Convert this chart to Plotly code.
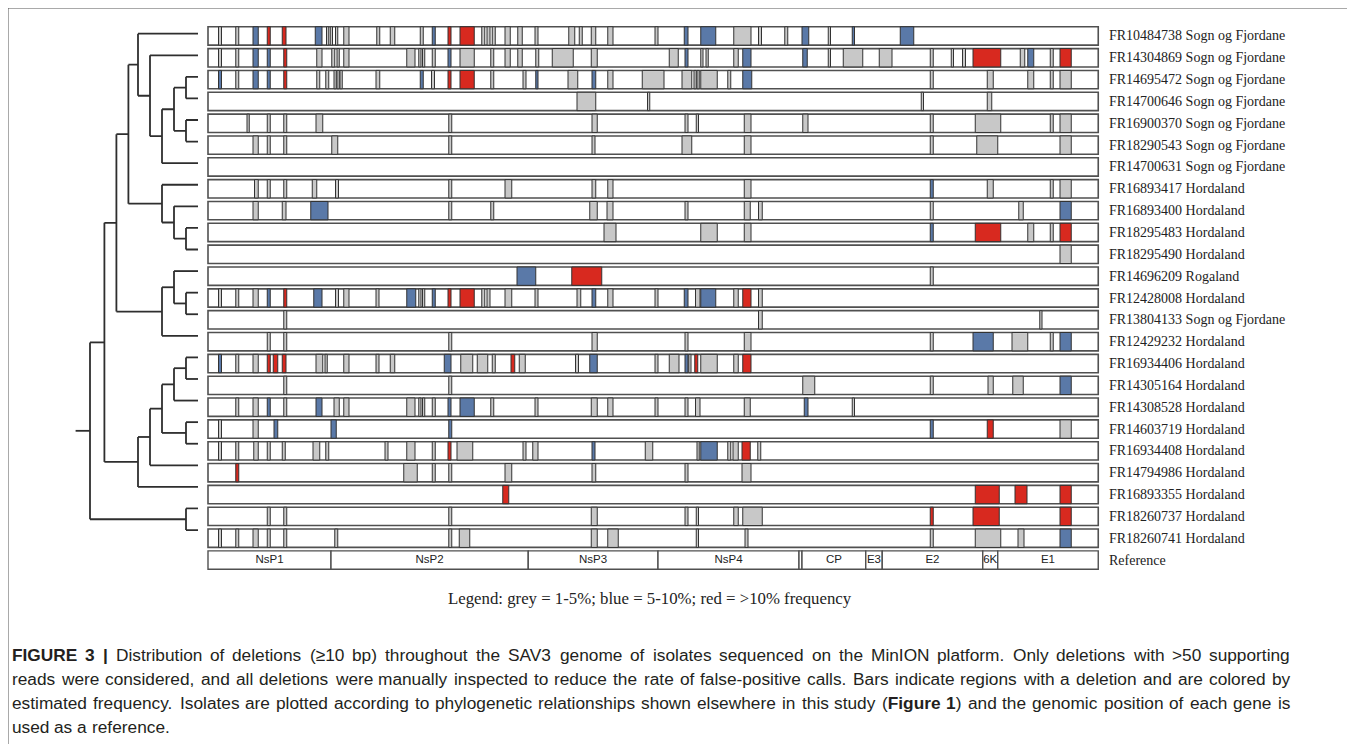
import plotly.graph_objects as go

# ---------------- data ----------------
isolates = ["FR10484738", "FR14304869", "FR14695472", "FR14700646", "FR16900370", "FR18290543",
            "FR14700631", "FR16893417", "FR16893400", "FR18295483", "FR18295490", "FR14696209",
            "FR12428008", "FR13804133", "FR12429232", "FR16934406", "FR14305164", "FR14308528",
            "FR14603719", "FR16934408", "FR14794986", "FR16893355", "FR18260737", "FR18260741"]
locations = ["Sogn og Fjordane"] * 7 + ["Hordaland"] * 4 + ["Rogaland", "Hordaland",
             "Sogn og Fjordane"] + ["Hordaland"] * 10

genome_length_kb = 11.87
genes = ["NsP1", "NsP2", "NsP3", "NsP4", "", "CP", "E3", "E2", "6K", "E1"]
gene_start = [0.00, 1.64, 4.27, 6.00, 7.88, 7.92, 8.77, 8.99, 10.33, 10.53]
gene_end = [1.64, 4.27, 6.00, 7.88, 7.92, 8.77, 8.99, 10.33, 10.53, 11.87]

# deletions per isolate: (start kb, end kb, frequency class g=1-5%, b=5-10%, r=>10%)
deletions = [
    # FR10484738
    [(0.14, 0.18, "g"), (0.37, 0.41, "g"), (0.60, 0.67, "b"), (0.79, 0.83, "r"), (0.99, 1.04, "r"),
     (1.43, 1.52, "b"), (1.58, 1.61, "g"), (1.63, 1.66, "g"), (1.70, 1.73, "g"), (1.81, 1.88, "g"),
     (2.25, 2.29, "g"), (2.43, 2.49, "g"), (2.83, 2.87, "g"), (2.99, 3.03, "b"), (3.20, 3.24, "r"),
     (3.36, 3.55, "r"), (3.65, 3.69, "g"), (3.72, 3.76, "g"), (3.79, 3.83, "g"), (3.96, 4.03, "g"),
     (4.13, 4.19, "g"), (4.36, 4.40, "g"), (4.81, 4.89, "g"), (4.95, 4.99, "g"), (5.11, 5.17, "g"),
     (5.33, 5.40, "g"), (5.96, 6.00, "g"), (6.35, 6.40, "b"), (6.57, 6.77, "b"), (7.01, 7.24, "g"),
     (7.34, 7.38, "g"), (7.69, 7.73, "g"), (7.92, 8.01, "b"), (8.27, 8.30, "g"), (8.59, 8.62, "b"),
     (9.23, 9.41, "b")],
    # FR14304869
    [(0.14, 0.18, "g"), (0.37, 0.41, "g"), (0.60, 0.67, "b"), (0.79, 0.83, "b"), (1.01, 1.05, "r"),
     (1.45, 1.52, "g"), (1.65, 1.69, "g"), (1.72, 1.75, "g"), (1.81, 1.88, "g"), (2.65, 2.76, "g"),
     (2.81, 2.84, "g"), (2.86, 2.89, "g"), (2.99, 3.03, "g"), (3.20, 3.24, "b"), (3.36, 3.55, "g"),
     (3.77, 3.81, "g"), (3.96, 4.03, "g"), (4.13, 4.19, "g"), (4.37, 4.41, "g"), (4.59, 4.87, "g"),
     (5.11, 5.19, "g"), (6.15, 6.27, "g"), (6.36, 6.40, "b"), (6.57, 6.60, "g"), (6.64, 6.67, "g"),
     (7.01, 7.07, "g"), (7.13, 7.24, "b"), (7.93, 7.99, "b"), (8.27, 8.30, "g"), (8.47, 8.73, "g"),
     (8.95, 9.12, "g"), (9.63, 9.67, "g"), (9.91, 9.94, "g"), (10.06, 10.10, "g"), (10.20, 10.57, "r"),
     (10.83, 10.89, "g"), (10.93, 11.01, "b"), (11.23, 11.27, "g"), (11.36, 11.51, "r")],
    # FR14695472
    [(0.14, 0.18, "b"), (0.37, 0.41, "g"), (0.60, 0.67, "b"), (0.79, 0.83, "b"), (1.01, 1.05, "r"),
     (1.45, 1.49, "g"), (1.57, 1.61, "g"), (1.68, 1.71, "g"), (1.72, 1.75, "g"), (1.76, 1.79, "g"),
     (2.24, 2.29, "g"), (2.83, 2.87, "b"), (2.98, 3.02, "g"), (3.20, 3.24, "r"), (3.36, 3.55, "r"),
     (3.77, 3.81, "g"), (4.20, 4.24, "g"), (4.37, 4.40, "b"), (4.80, 4.93, "g"), (5.12, 5.17, "b"),
     (5.33, 5.40, "g"), (5.79, 6.08, "g"), (6.32, 6.45, "g"), (6.48, 6.51, "g"), (6.52, 6.55, "g"),
     (6.57, 6.79, "g"), (6.93, 6.97, "g"), (7.13, 7.25, "b"), (9.63, 9.67, "g"), (10.39, 10.47, "g"),
     (10.93, 11.01, "g"), (11.23, 11.27, "g"), (11.36, 11.51, "g")],
    # FR14700646
    [(4.92, 5.17, "g"), (5.86, 5.89, "g"), (9.51, 9.54, "g"), (10.39, 10.45, "g")],
    # FR16900370
    [(0.52, 0.55, "g"), (0.79, 0.83, "g"), (1.01, 1.05, "g"), (1.44, 1.53, "g"), (3.21, 3.25, "g"),
     (5.12, 5.19, "g"), (6.36, 6.40, "g"), (6.51, 6.54, "g"), (7.15, 7.24, "g"), (7.93, 8.00, "g"),
     (9.63, 9.67, "g"), (10.23, 10.57, "g"), (11.23, 11.27, "g"), (11.36, 11.51, "g")],
    # FR18290543
    [(0.60, 0.67, "g"), (0.79, 0.83, "g"), (1.01, 1.05, "g"), (1.65, 1.73, "g"), (3.21, 3.25, "g"),
     (5.12, 5.16, "g"), (6.32, 6.45, "g"), (7.15, 7.24, "g"), (9.63, 9.67, "g"), (10.25, 10.53, "g"),
     (11.36, 11.51, "g")],
    # FR14700631
    [],
    # FR16893417
    [(0.62, 0.67, "g"), (0.79, 0.83, "g"), (1.01, 1.05, "g"), (1.39, 1.45, "g"), (1.70, 1.74, "g"),
     (3.21, 3.25, "g"), (3.96, 4.05, "g"), (5.12, 5.17, "g"), (5.33, 5.40, "g"), (7.15, 7.24, "g"),
     (9.63, 9.67, "b"), (10.39, 10.47, "g"), (11.23, 11.27, "g"), (11.36, 11.51, "g")],
    # FR16893400
    [(0.60, 0.67, "g"), (0.99, 1.04, "g"), (1.37, 1.60, "b"), (3.21, 3.25, "g"), (3.77, 3.81, "g"),
     (5.09, 5.19, "g"), (5.32, 5.40, "g"), (6.36, 6.40, "g"), (7.15, 7.23, "g"), (7.34, 7.39, "g"),
     (9.63, 9.67, "g"), (10.81, 10.87, "g"), (11.36, 11.51, "b")],
    # FR18295483
    [(5.28, 5.44, "g"), (6.57, 6.79, "g"), (7.15, 7.24, "g"), (9.63, 9.67, "b"), (10.23, 10.57, "r"),
     (10.93, 11.01, "g"), (11.23, 11.27, "g"), (11.36, 11.51, "r")],
    # FR18295490
    [(11.36, 11.51, "g")],
    # FR14696209
    [(4.12, 4.37, "b"), (4.85, 5.25, "r"), (9.63, 9.67, "g")],
    # FR12428008
    [(0.14, 0.18, "g"), (0.37, 0.41, "g"), (0.60, 0.67, "g"), (0.79, 0.83, "b"), (1.01, 1.05, "r"),
     (1.41, 1.52, "b"), (1.70, 1.74, "g"), (1.81, 1.88, "g"), (2.24, 2.28, "g"), (2.65, 2.77, "b"),
     (2.81, 2.84, "g"), (2.86, 2.89, "g"), (2.99, 3.03, "b"), (3.20, 3.24, "r"), (3.36, 3.55, "r"),
     (3.65, 3.69, "g"), (3.72, 3.76, "g"), (3.96, 4.05, "g"), (4.36, 4.40, "g"), (4.92, 4.97, "g"),
     (5.12, 5.17, "b"), (5.33, 5.40, "g"), (5.96, 6.00, "g"), (6.35, 6.40, "b"), (6.50, 6.56, "g"),
     (6.57, 6.77, "b"), (7.01, 7.07, "g"), (7.13, 7.24, "r"), (7.34, 7.39, "g")],
    # FR13804133
    [(1.01, 1.05, "g"), (7.34, 7.39, "g"), (11.09, 11.12, "g")],
    # FR12429232
    [(0.79, 0.83, "g"), (1.01, 1.05, "g"), (3.21, 3.25, "g"), (5.12, 5.19, "g"), (6.36, 6.40, "g"),
     (7.15, 7.24, "g"), (9.63, 9.67, "g"), (10.20, 10.47, "b"), (10.72, 10.93, "g"), (11.23, 11.27, "g"),
     (11.36, 11.51, "b")],
    # FR16934406
    [(0.14, 0.18, "b"), (0.37, 0.41, "g"), (0.60, 0.67, "g"), (0.79, 0.83, "r"), (0.87, 0.93, "r"),
     (0.99, 1.04, "r"), (1.44, 1.53, "g"), (1.56, 1.59, "g"), (1.81, 1.88, "g"), (2.24, 2.28, "g"),
     (2.43, 2.49, "g"), (3.15, 3.24, "b"), (3.37, 3.53, "g"), (3.59, 3.73, "g"), (3.79, 3.83, "g"),
     (4.04, 4.09, "r"), (4.15, 4.23, "g"), (4.90, 4.94, "g"), (5.09, 5.19, "b"), (5.96, 6.00, "g"),
     (6.15, 6.28, "g"), (6.36, 6.40, "b"), (6.41, 6.44, "g"), (6.49, 6.53, "r"), (6.57, 6.79, "g"),
     (7.01, 7.07, "g"), (7.13, 7.24, "r")],
    # FR14305164
    [(1.01, 1.05, "g"), (3.21, 3.25, "g"), (7.93, 8.09, "g"), (9.63, 9.67, "g"), (10.40, 10.47, "g"),
     (10.73, 10.87, "g"), (11.36, 11.51, "b")],
    # FR14308528
    [(0.37, 0.41, "g"), (0.60, 0.67, "g"), (0.79, 0.83, "b"), (1.01, 1.05, "g"), (1.44, 1.52, "b"),
     (1.68, 1.75, "g"), (1.81, 1.88, "g"), (2.65, 2.76, "g"), (2.81, 2.84, "g"), (2.86, 2.89, "g"),
     (2.99, 3.03, "g"), (3.20, 3.24, "b"), (3.36, 3.55, "b"), (3.77, 3.81, "g"), (4.36, 4.40, "g"),
     (5.11, 5.19, "g"), (5.33, 5.40, "g"), (5.96, 6.00, "g"), (6.36, 6.40, "g"), (6.50, 6.56, "g"),
     (7.15, 7.23, "g"), (7.95, 8.00, "b"), (8.59, 8.62, "g")],
    # FR14603719
    [(0.14, 0.18, "g"), (0.60, 0.67, "g"), (0.88, 0.93, "b"), (1.64, 1.71, "b"), (3.21, 3.25, "b"),
     (9.63, 9.67, "b"), (10.39, 10.47, "r"), (11.36, 11.51, "g")],
    # FR16934408
    [(0.14, 0.18, "g"), (0.37, 0.41, "g"), (0.61, 0.67, "g"), (0.79, 0.83, "g"), (0.99, 1.03, "g"),
     (1.40, 1.49, "g"), (1.57, 1.61, "g"), (2.36, 2.40, "g"), (2.65, 2.76, "g"), (2.99, 3.03, "g"),
     (3.20, 3.24, "r"), (3.32, 3.53, "g"), (4.20, 4.24, "g"), (4.33, 4.40, "g"), (5.12, 5.16, "b"),
     (5.83, 5.93, "g"), (6.52, 6.55, "g"), (6.57, 6.79, "b"), (6.93, 6.97, "g"), (7.00, 7.07, "g"),
     (7.12, 7.23, "r"), (7.33, 7.37, "g")],
    # FR14794986
    [(0.37, 0.41, "r"), (2.61, 2.79, "g"), (2.99, 3.03, "g"), (3.21, 3.25, "g"), (3.96, 4.05, "g"),
     (5.12, 5.17, "g"), (6.36, 6.40, "g"), (7.12, 7.24, "g")],
    # FR16893355
    [(3.93, 4.01, "r"), (10.23, 10.55, "r"), (10.76, 10.92, "r"), (11.36, 11.51, "r")],
    # FR18260737
    [(0.79, 0.83, "g"), (1.01, 1.05, "g"), (3.21, 3.25, "g"), (5.11, 5.19, "g"), (6.36, 6.40, "g"),
     (6.51, 6.54, "g"), (7.01, 7.07, "g"), (7.13, 7.39, "g"), (9.63, 9.67, "r"), (10.20, 10.55, "r"),
     (11.36, 11.51, "r")],
    # FR18260741
    [(0.14, 0.18, "g"), (0.37, 0.41, "g"), (0.60, 0.67, "g"), (0.79, 0.83, "g"), (1.01, 1.05, "g"),
     (1.69, 1.73, "g"), (3.21, 3.25, "g"), (3.35, 3.49, "g"), (5.11, 5.19, "g"), (5.33, 5.47, "g"),
     (6.51, 6.54, "g"), (7.16, 7.20, "g"), (9.63, 9.67, "g"), (10.23, 10.57, "g"), (10.80, 10.88, "g"),
     (11.36, 11.51, "b")],
]

# dendrogram: (node height, left child, right child); leaves are isolate row numbers
tree = (0.0,
        (1.2,
         (2.2,
          (3.2,
           (4.0, 1, (5.0, 2, (6.0, (7.0, (8.0, 3, 4), (8.0, 5, 6)), 7))),
           (6.0, 8, (7.0, 9, (8.0, 10, 11)))),
          (6.0, (7.0, 12, (8.0, 13, 14)), 15)),
         (4.0, (5.0, (6.0, (7.0, (8.0, 16, 17), 18), (8.0, 19, 20)), 21), 22)),
        (8.0, 23, 24))
leaf_height = 9.0
root_stub = -1.2

legend_text = "Legend: grey = 1-5%; blue = 5-10%; red = >10% frequency"
caption_lines = [
    "<b>FIGURE 3 |</b> Distribution of deletions (\u226510 bp) throughout the SAV3 genome of isolates sequenced on the MinION platform. Only deletions with >50 supporting",
    "reads were considered, and all deletions were manually inspected to reduce the rate of false-positive calls. Bars indicate regions with a deletion and are colored by",
    "estimated frequency. Isolates are plotted according to phylogenetic relationships shown elsewhere in this study (<b>Figure 1</b>) and the genomic position of each gene is",
    "used as a reference.",
]

# ---------------- styling / geometry ----------------
PAGE_OFF = 8            # body margin of the html page
FW, FH = 1347, 736      # figure size so page is filled exactly
COLORS = {"g": "#c8c8c8", "b": "#5a79a8", "r": "#d8291f"}
EDGE = "#333333"
ROW_EDGE = "#505050"
BAR_T = 0.84
SERIF = "Liberation Serif, Times New Roman, serif"
SANS = "Liberation Sans, Arial, sans-serif"


def px(x):
    return (x - PAGE_OFF) / FW


def py(y):
    return 1 - (y - PAGE_OFF) / FH


fig = go.Figure()

n = len(isolates)
rows = list(range(1, n + 1))
ref_row = n + 1

# row backgrounds
fig.add_trace(go.Bar(orientation="h", y=rows, base=[0] * n, x=[genome_length_kb] * n,
                     width=BAR_T, marker=dict(color="white", line=dict(color=ROW_EDGE, width=1.6)),
                     hoverinfo="skip", showlegend=False))

# deletions
for cls in ["g", "b", "r"]:
    ys, bs, ws = [], [], []
    for i, dl in enumerate(deletions):
        for s, e, c in dl:
            if c == cls:
                ys.append(i + 1)
                bs.append(s)
                ws.append(e - s)
    fig.add_trace(go.Bar(orientation="h", y=ys, base=bs, x=ws, width=BAR_T,
                         marker=dict(color=COLORS[cls], line=dict(color=EDGE, width=1)),
                         hoverinfo="skip", showlegend=False))

# reference genes
fig.add_trace(go.Bar(orientation="h", y=[ref_row] * len(genes), base=gene_start,
                     x=[e - s for s, e in zip(gene_start, gene_end)], width=BAR_T,
                     marker=dict(color="white", line=dict(color=ROW_EDGE, width=1.4)),
                     hoverinfo="skip", showlegend=False))
fig.add_trace(go.Scatter(x=[(s + e) / 2 for s, e in zip(gene_start, gene_end)],
                         y=[ref_row] * len(genes), mode="text", text=genes,
                         textfont=dict(family=SANS, size=11.5, color="#222"),
                         hoverinfo="skip", showlegend=False, cliponaxis=False))

# dendrogram
seg_x, seg_y = [], []


def draw(node):
    if isinstance(node, int):
        return float(node), leaf_height
    h, a, b = node
    ya, ha = draw(a)
    yb, hb = draw(b)
    seg_x.extend([h, h, None, h, ha, None, h, hb, None])
    seg_y.extend([ya, yb, None, ya, ya, None, yb, yb, None])
    return (ya + yb) / 2, h


ry, rh = draw(tree)
seg_x.extend([root_stub, rh, None])
seg_y.extend([ry, ry, None])
fig.add_trace(go.Scatter(x=seg_x, y=seg_y, mode="lines", xaxis="x2", yaxis="y2",
                         line=dict(color="#2e2e2e", width=1.8), hoverinfo="skip",
                         showlegend=False))

# axes geometry (page pixels)
kb_px = 75.0
x0_px = 208.0
gx0, gx1 = 200.0, 1104.0
row_top, row_bot = 25.0, 571.0
dx_root, d_lvl = 90.0, 12.0
dx0, dx1 = 60.0, 205.0
leaf1_y, leaf_pitch = 33.7, 21.58

fig.update_layout(
    width=FW, height=FH, margin=dict(l=0, r=0, t=0, b=0),
    paper_bgcolor="white", plot_bgcolor="white", barmode="overlay",
    xaxis=dict(domain=[px(gx0), px(gx1)],
               range=[(gx0 - x0_px) / kb_px, (gx1 - x0_px) / kb_px], visible=False),
    yaxis=dict(domain=[py(row_bot), py(row_top)], range=[ref_row + 0.5, 0.5], visible=False),
    xaxis2=dict(domain=[px(dx0), px(dx1)], anchor="y2",
                range=[(dx0 - dx_root) / d_lvl, (dx1 - dx_root) / d_lvl], visible=False),
    yaxis2=dict(domain=[py(leaf1_y + (n - 0.5) * leaf_pitch), py(leaf1_y - 0.5 * leaf_pitch)],
                anchor="x2", range=[n + 0.5, 0.5], visible=False),
)

annotations = []
for i, (iso, loc) in enumerate(zip(isolates, locations)):
    annotations.append(dict(x=px(1107), xref="paper", y=i + 1, yref="y", text=f"{iso} {loc}",
                            xanchor="left", yanchor="middle", showarrow=False,
                            font=dict(family=SERIF, size=14, color="#222")))
annotations.append(dict(x=px(1107), xref="paper", y=ref_row, yref="y", text="Reference",
                        xanchor="left", yanchor="middle", showarrow=False,
                        font=dict(family=SERIF, size=14, color="#222")))
annotations.append(dict(x=px(650), xref="paper", y=py(598), yref="paper", text=legend_text,
                        xanchor="center", yanchor="middle", showarrow=False,
                        font=dict(family=SERIF, size=16.8, color="#222")))

# ---- justified caption (Helvetica / Liberation Sans advance widths, 1/1000 em) ----
HW = {" ": 278, "!": 278, "(": 333, ")": 333, ",": 278, "-": 333, ".": 278, ":": 278, ";": 278,
      ">": 584, "<": 584, "=": 584, "|": 260, "%": 889, "\u2265": 549}
for ch in "0123456789":
    HW[ch] = 556
HW.update(dict(zip("ABCDEFGHIJKLMNOPQRSTUVWXYZ",
                   [667, 667, 722, 722, 667, 611, 778, 722, 278, 500, 667, 556, 833, 722, 778, 667,
                    778, 722, 667, 611, 722, 667, 944, 667, 667, 611])))
HW.update(dict(zip("abcdefghijklmnopqrstuvwxyz",
                   [556, 556, 500, 556, 556, 278, 556, 556, 222, 222, 500, 222, 833, 556, 556, 556,
                    556, 333, 500, 278, 556, 500, 722, 500, 500, 500])))
HWB = dict(HW)
HWB.update({"F": 611, "I": 278, "G": 778, "U": 722, "R": 722, "E": 667, "|": 280, "i": 278,
            "g": 611, "u": 611, "r": 389, "e": 556})

CAP_SIZE = 17.3
CAP_X0, CAP_X1 = 12.0, 1290.0


def parse_words(line, bold_state):
    words = []
    bold = bold_state
    for raw in line.split(" "):
        runs, cur, i = [], "", 0
        while i < len(raw):
            if raw.startswith("<b>", i):
                if cur:
                    runs.append((cur, bold))
                cur, bold, i = "", True, i + 3
            elif raw.startswith("</b>", i):
                if cur:
                    runs.append((cur, bold))
                cur, bold, i = "", False, i + 4
            else:
                cur += raw[i]
                i += 1
        if cur:
            runs.append((cur, bold))
        words.append(runs)
    return words, bold


def word_width(runs):
    w = 0
    for t, b in runs:
        tab = HWB if b else HW
        w += sum(tab.get(c, 556) for c in t)
    return w * CAP_SIZE / 1000.0


bold = False
for k, line in enumerate(caption_lines):
    words, bold = parse_words(line, bold)
    widths = [word_width(w) for w in words]
    justify = k < len(caption_lines) - 1
    if justify and len(words) > 1:
        gap = (CAP_X1 - CAP_X0 - sum(widths)) / (len(words) - 1)
    else:
        gap = HW[" "] * CAP_SIZE / 1000.0
    x = CAP_X0
    for w, wd in zip(words, widths):
        html = "".join(f"<b>{t}</b>" if b else t for t, b in w)
        annotations.append(dict(x=px(x), xref="paper", y=py(655 + 24 * k), yref="paper", text=html,
                                xanchor="left", yanchor="middle", showarrow=False,
                                borderpad=0, borderwidth=0,
                                font=dict(family=SANS, size=CAP_SIZE, color="#231f20")))
        x += wd + gap

fig.update_layout(annotations=annotations)

# outer frame (right/bottom edges lie outside the visible page)
fig.add_shape(type="rect", xref="paper", yref="paper", x0=px(8), x1=1.05, y0=-0.2, y1=py(8),
              line=dict(color="#555", width=1), fillcolor="rgba(0,0,0,0)", layer="below")

fig.write_html("out.html")
